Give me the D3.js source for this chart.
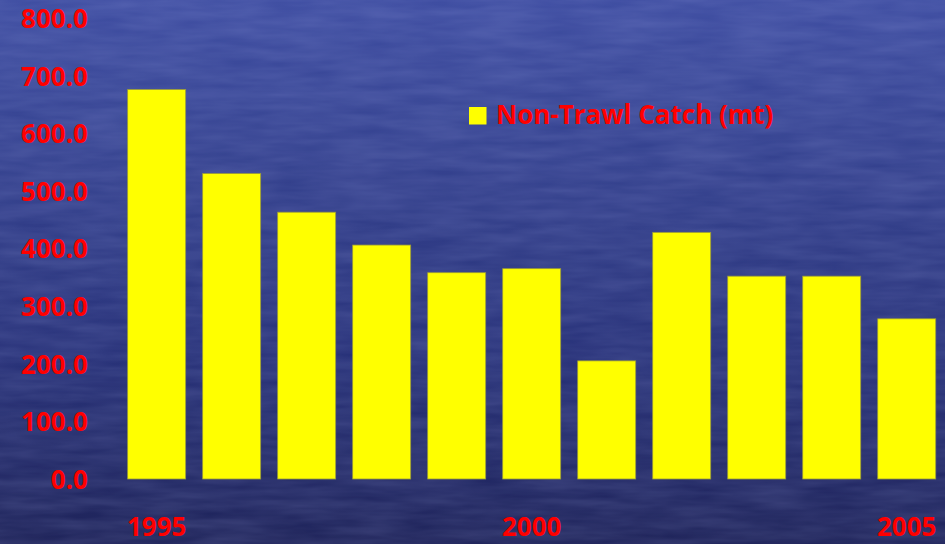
<!DOCTYPE html>
<html>
<head>
<meta charset="utf-8">
<script src="https://cdn.jsdelivr.net/npm/d3@7"></script>
<style>
  html, body { margin: 0; padding: 0; background: #2e3a85; }
  svg { display: block; }
</style>
</head>
<body>
<svg id="chart" width="945" height="544"></svg>
<script>
const years = ["1995","1996","1997","1998","1999","2000","2001","2002","2003","2004","2005"];
const catchValues = [676, 530, 463, 406, 358, 365, 205, 428, 352, 352, 278];
const yTicks = [0, 100, 200, 300, 400, 500, 600, 700, 800];
const xLabelYears = ["1995", "2000", "2005"];
const seriesName = "Non-Trawl Catch (mt)";

const W = 945, H = 544;
const svg = d3.select("#chart");
const defs = svg.append("defs");

const grad = defs.append("linearGradient").attr("id", "bg").attr("x1", 0).attr("y1", 0).attr("x2", 0).attr("y2", 1);
grad.append("stop").attr("offset", "0%").attr("stop-color", "#3f4ea2");
grad.append("stop").attr("offset", "30%").attr("stop-color", "#35428f");
grad.append("stop").attr("offset", "65%").attr("stop-color", "#283279");
grad.append("stop").attr("offset", "100%").attr("stop-color", "#1f245a");

const filt = defs.append("filter").attr("id", "tex").attr("x", 0).attr("y", 0).attr("width", 1).attr("height", 1);
filt.append("feTurbulence").attr("type", "fractalNoise").attr("baseFrequency", "0.015 0.1").attr("numOctaves", 3).attr("seed", 4).attr("result", "n");
filt.append("feColorMatrix").attr("in", "n").attr("type", "matrix")
  .attr("values", "0 0 0 0 0.5  0 0 0 0 0.55  0 0 0 0 0.95  0 0 0 0.2 -0.03").attr("result", "c");
filt.append("feComposite").attr("in", "c").attr("in2", "SourceGraphic").attr("operator", "in");

svg.append("rect").attr("width", W).attr("height", H).attr("fill", "url(#bg)");
svg.append("rect").attr("width", W).attr("height", H).attr("fill", "#000").attr("filter", "url(#tex)");

const fontFam = "'Open Sans', 'Liberation Sans', sans-serif";

const x = d3.scaleBand().domain(years).range([119.2, 944.2]).paddingInner(0.227).paddingOuter(0.113);
const y = d3.scaleLinear().domain([0, 800]).range([479, 18]);

// y axis labels
const yAxis = d3.axisLeft(y).tickValues(yTicks).tickFormat(d3.format(".1f")).tickSize(0).tickPadding(0);
const gy = svg.append("g").attr("transform", "translate(88,0)").call(yAxis);
gy.select(".domain").remove();
gy.selectAll("text")
  .attr("fill", "#ff0000").attr("font-family", fontFam).attr("font-weight", 700)
  .attr("font-size", 26).attr("dy", "0.36em");

// bars
svg.append("g").selectAll("rect").data(years).join("rect")
  .attr("x", d => x(d))
  .attr("width", x.bandwidth())
  .attr("y", (d, i) => y(catchValues[i]))
  .attr("height", (d, i) => y(0) - y(catchValues[i]))
  .attr("fill", "#ffff00")
  .attr("stroke", "#9a9a3a").attr("stroke-width", 0.8);

// x labels
const xAxis = d3.axisBottom(x).tickValues(xLabelYears).tickSize(0).tickPadding(0);
const gx = svg.append("g").attr("transform", "translate(0,536)").call(xAxis);
gx.select(".domain").remove();
gx.selectAll("text")
  .attr("fill", "#ff0000").attr("font-family", fontFam).attr("font-weight", 700)
  .attr("font-size", 26).attr("dy", 0).attr("y", 0);

// legend
const lg = svg.append("g").attr("transform", "translate(469,107)");
lg.append("rect").attr("width", 17.5).attr("height", 17.5).attr("fill", "#ffff00");
lg.append("text").attr("x", 27).attr("y", 17).text(seriesName)
  .attr("fill", "#ff0000").attr("font-family", fontFam).attr("font-weight", 700).attr("font-size", 26);
</script>
</body>
</html>
